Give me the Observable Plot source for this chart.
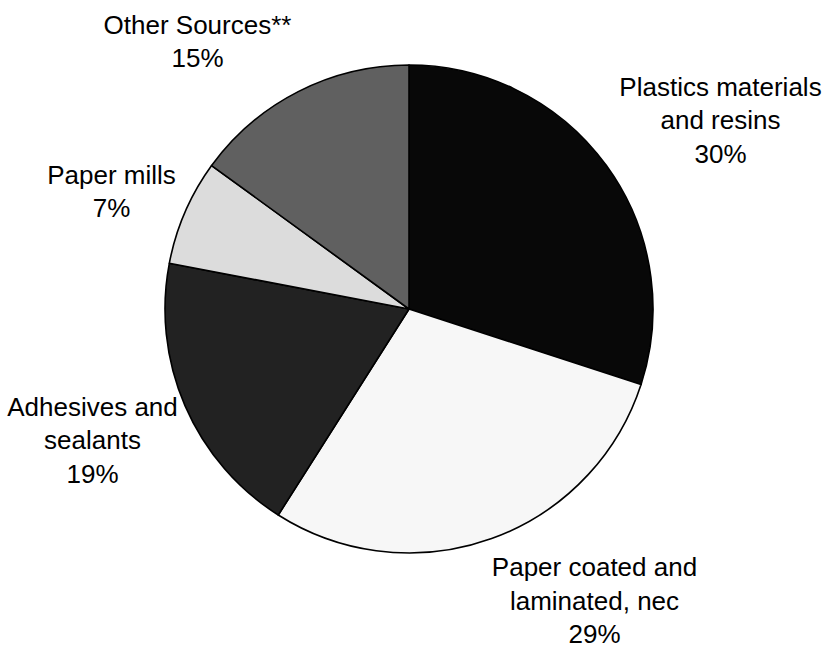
<!DOCTYPE html>
<html>
<head>
<meta charset="utf-8">
<script src="https://cdn.jsdelivr.net/npm/d3@7"></script>
<script src="https://cdn.jsdelivr.net/npm/@observablehq/plot@0.6"></script>
<style>
  html, body { margin: 0; padding: 0; background: #fff; }
  #chart svg { display: block; }
</style>
</head>
<body>
<div id="chart"></div>
<script>
// Data
const categories = ["Plastics materials\nand resins", "Paper coated and\nlaminated, nec", "Adhesives and\nsealants", "Paper mills", "Other Sources**"];
const shares = [30, 29, 19, 7, 15];
const colors = ["#080808", "#f7f7f7", "#222222", "#dcdcdc", "#606060"];

// Layout (pixel space)
const W = 828, H = 647;
const center = {x: 409, y: 309};
const radius = 244;
const fontSize = 26;
const lineHeight = 1.29;
// x = text centre, b = baseline of first line
const labelPos = [
  {x: 720, b: 95},
  {x: 594, b: 575.5},
  {x: 92, b: 415},
  {x: 111, b: 183},
  {x: 197, b: 33}
];
const firstLineOffset = 0.71 * lineHeight * fontSize;

const slices = categories.map((c, i) => ({name: c, value: shares[i], color: colors[i]}));
const labels = slices.map((s, i) => ({
  text: `${s.name}\n${s.value}%`,
  x: labelPos[i].x,
  y: labelPos[i].b - firstLineOffset
}));

function pieMark(index, scales) {
  const cx = scales.x(center.x), cy = scales.y(center.y);
  const r = scales.x(center.x + radius) - cx;
  const arcs = d3.pie().sort(null).value(d => d.value)(slices);
  const arc = d3.arc().innerRadius(0).outerRadius(r);
  const g = d3.create("svg:g").attr("transform", `translate(${cx},${cy})`);
  g.selectAll("path").data(arcs).join("path")
    .attr("d", arc)
    .attr("fill", d => d.data.color)
    .attr("stroke", "#000")
    .attr("stroke-width", 1.6)
    .attr("stroke-linejoin", "round");
  return g.node();
}

const chart = Plot.plot({
  width: W,
  height: H,
  margin: 0,
  x: {domain: [0, W], range: [0, W], axis: null},
  y: {domain: [0, H], range: [0, H], axis: null},
  style: {background: "#fff"},
  marks: [
    pieMark,
    Plot.text(labels, {
      x: "x", y: "y", text: "text",
      textAnchor: "middle",
      lineAnchor: "top",
      lineHeight: lineHeight,
      fontSize: fontSize,
      fontFamily: "Liberation Sans, Arial, sans-serif",
      fill: "#000"
    })
  ]
});
document.getElementById("chart").appendChild(chart);
</script>
</body>
</html>
